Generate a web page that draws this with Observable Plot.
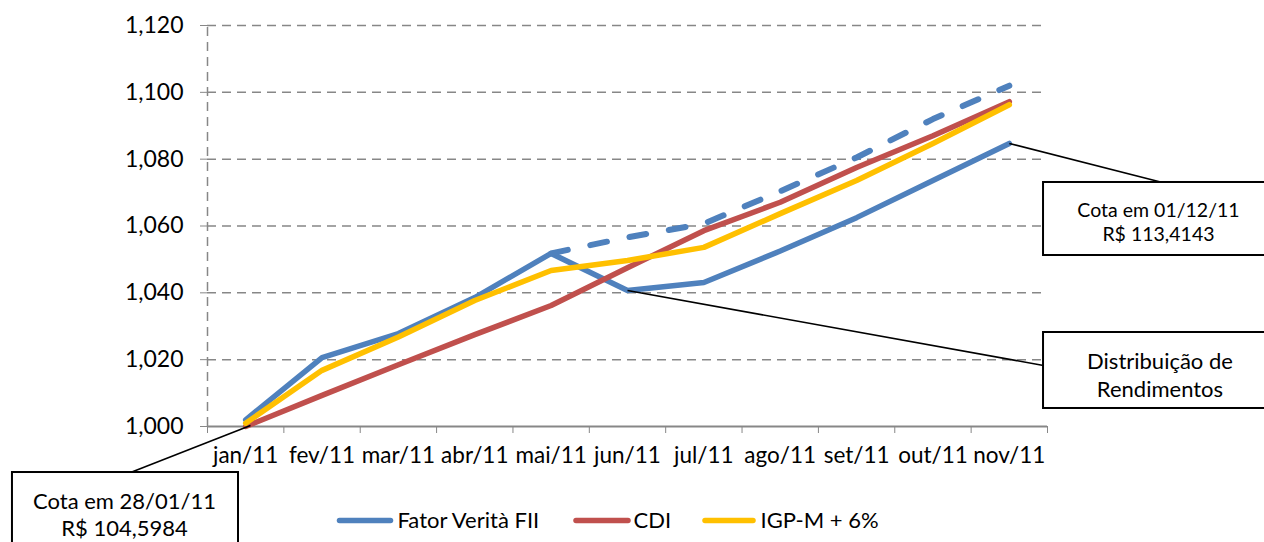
<!DOCTYPE html>
<html>
<head>
<meta charset="utf-8">
<script src="https://cdn.jsdelivr.net/npm/d3@7"></script>
<script src="https://cdn.jsdelivr.net/npm/@observablehq/plot@0.6"></script>
<style>
  html, body { margin: 0; padding: 0; background: #fff; }
  #chart svg { display: block; }
</style>
</head>
<body>
<div id="chart"></div>
<script>
// ---- data ----
const months = ["jan/11","fev/11","mar/11","abr/11","mai/11","jun/11","jul/11","ago/11","set/11","out/11","nov/11"];
const seriesNames = ["Fator Verità FII", "CDI", "IGP-M + 6%"];
const fator    = [1.0020, 1.0206, 1.0278, 1.0386, 1.0518, 1.0407, 1.0431, 1.0525, 1.0625, 1.0736, 1.0847];
const fatorAdj = [null, null, null, null, 1.0518, 1.0566, 1.0607, 1.0704, 1.0805, 1.0920, 1.1020];
const cdi      = [1.0000, 1.0093, 1.0185, 1.0275, 1.0362, 1.0475, 1.0586, 1.0671, 1.0775, 1.0870, 1.0972];
const igpm     = [1.0010, 1.0168, 1.0268, 1.0377, 1.0467, 1.0497, 1.0536, 1.0637, 1.0736, 1.0847, 1.0963];
const yTicks   = [1.000, 1.020, 1.040, 1.060, 1.080, 1.100, 1.120];
const boxTexts = [["Cota em 28/01/11", "R$ 104,5984"], ["Cota em 01/12/11", "R$ 113,4143"], ["Distribuição de", "Rendimentos"]];

// ---- styles / layout ----
const colors = ["#4F81BD", "#C0504D", "#FFC000"];
const gridColor = "#878787";
const idx = months.map((m, i) => i);
const fmtY = d => d3.format(".3f")(d).replace(".", ",");

// annotation geometry in data units (x = month index, y = value)
const boxes = [
  {x1: -3.054, x2: -0.094, y1: 0.98623, y2: 0.9620, tx: -1.587, ty: 0.97382, size: 22, lh: 1.23},
  {x1: 10.448, x2: 13.42, y1: 1.07302, y2: 1.05117, tx: 11.953, ty: 1.06150, size: 19.5, lh: 1.28},
  {x1: 10.448, x2: 13.42, y1: 1.02813, y2: 1.00539, tx: 11.973, ty: 1.01556, size: 22, lh: 1.27}
];
const leaders = [
  {x1: -1.508, y1: 0.98623, x2: 0.063, y2: 1.0003},
  {x1: 10, y1: 1.0847, x2: 12.006, y2: 1.07302},
  {x1: 5, y1: 1.0407, x2: 10.448, y2: 1.01825}
];
const legendY = 0.97187;
const legendPos = [
  {s1: 1.2286, s2: 1.8964, t: 1.988},
  {s1: 4.3256, s2: 5.0066, t: 5.0786},
  {s1: 6.0149, s2: 6.6435, t: 6.7429}
];
const legendItems = seriesNames.map((n, i) => ({name: n, ...legendPos[i]}));

const lineOpts = {strokeWidth: 5.5, strokeLinejoin: "round", strokeLinecap: "round", curve: "linear"};

const chart = Plot.plot({
  width: 1264,
  height: 542,
  marginLeft: 207,
  marginRight: 217,
  marginTop: 25,
  marginBottom: 116,
  style: {fontFamily: "Lato, 'Open Sans', sans-serif", color: "#000", background: "#fff"},
  x: {type: "linear", domain: [-0.5, 10.5]},
  y: {domain: [1.0, 1.12]},
  color: {domain: seriesNames, range: colors},
  marks: [
    // grid
    Plot.ruleY(yTicks.slice(1), {x1: -0.5, x2: 10.5, stroke: gridColor, strokeWidth: 1.5, strokeDasharray: "9,6"}),
    Plot.ruleX([-0.5], {y1: 1.0, y2: 1.12, stroke: gridColor, strokeWidth: 1.5, strokeDasharray: "9,6"}),
    Plot.ruleY([1.0], {x1: -0.5, x2: 10.5, stroke: gridColor, strokeWidth: 2}),
    // axes
    Plot.axisY({ticks: yTicks, tickFormat: fmtY, tickSize: 7, tickPadding: 17, fontSize: 23, stroke: gridColor, fill: "#000"}),
    Plot.axisX({ticks: idx, tickFormat: i => months[i], tickSize: 0, tickPadding: 21, fontSize: 22.5, fill: "#000"}),
    Plot.axisX({ticks: d3.range(-0.5, 11, 1), tickFormat: () => "", tickSize: 7, tickPadding: 0, stroke: gridColor}),
    // series
    Plot.line(fator, {x: (d, i) => i, y: d => d, stroke: colors[0], ...lineOpts}),
    Plot.line(cdi, {x: (d, i) => i, y: d => d, stroke: colors[1], ...lineOpts}),
    Plot.line(igpm, {x: (d, i) => i, y: d => d, stroke: colors[2], ...lineOpts}),
    Plot.line(fatorAdj, {x: (d, i) => i, y: d => d, stroke: colors[0], ...lineOpts, strokeWidth: 6, strokeDasharray: "17,23"}),
    // annotations
    Plot.link(leaders, {x1: "x1", y1: "y1", x2: "x2", y2: "y2", stroke: "#000", strokeWidth: 1.6}),
    Plot.rect(boxes, {x1: "x1", x2: "x2", y1: "y1", y2: "y2", fill: "#fff", stroke: "#000", strokeWidth: 2}),
    ...boxes.map((b, i) => Plot.text([boxTexts[i].join("\n")], {x: b.tx, y: b.ty, text: d => d, fontSize: b.size, lineHeight: b.lh, fill: "#000", textAnchor: "middle"})),
    // legend
    Plot.link(legendItems, {x1: "s1", x2: "s2", y1: legendY, y2: legendY, stroke: "name", strokeWidth: 5.5, strokeLinecap: "round"}),
    Plot.text(legendItems, {x: "t", y: legendY, text: "name", textAnchor: "start", fontSize: 22, fill: "#000"})
  ]
});
document.getElementById("chart").appendChild(chart);
</script>
</body>
</html>
